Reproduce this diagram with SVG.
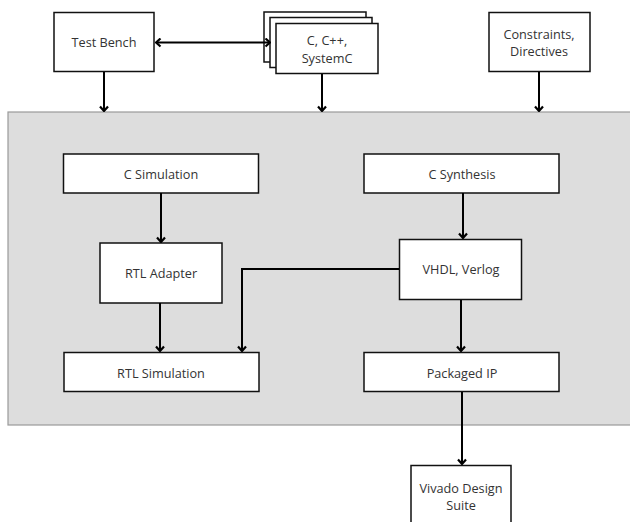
<svg xmlns="http://www.w3.org/2000/svg" width="630" height="522" viewBox="0 0 630 522">
<style>
.box{fill:#fff;stroke:#111;stroke-width:1.5}
.t{font-family:"Open Sans","Noto Sans",sans-serif;font-size:12.7px;fill:#333;text-anchor:middle}
.c{fill:none;stroke:#000;stroke-width:2}
</style>
<defs>
<marker id="ah" viewBox="0 0 10 10" refX="9" refY="5" markerWidth="10" markerHeight="10" orient="auto-start-reverse" markerUnits="userSpaceOnUse">
<polyline points="4.5,1 9,5 4.5,9" fill="none" stroke="#000" stroke-width="2.2"/>
</marker>
</defs>
<rect x="0" y="0" width="630" height="522" fill="#fff"/>
<g id="container"><rect x="8" y="112" width="630" height="313" fill="#dddddd" stroke="#9a9a9a" stroke-width="1.2"/></g>
<g id="testbench"><rect class="box" x="54" y="12.5" width="100" height="59"/><text class="t" x="104" y="47">Test Bench</text></g>
<g id="sources">
<rect class="box" x="264" y="12" width="102" height="50"/>
<rect class="box" x="270" y="17.5" width="102" height="50"/>
<rect class="box" x="276" y="23.5" width="102" height="50"/>
<text class="t" x="327" y="45">C, C++,</text><text class="t" x="327" y="63">SystemC</text>
</g>
<g id="constraints"><rect class="box" x="489" y="12.5" width="101" height="59"/><text class="t" x="539" y="39">Constraints,</text><text class="t" x="539" y="56">Directives</text></g>
<g id="csim"><rect class="box" x="63.5" y="154" width="195" height="39"/><text class="t" x="161" y="178.5">C Simulation</text></g>
<g id="rtladapter"><rect class="box" x="100" y="243" width="122" height="60"/><text class="t" x="161" y="278">RTL Adapter</text></g>
<g id="rtlsim"><rect class="box" x="64" y="352.5" width="195" height="39"/><text class="t" x="161" y="377.5">RTL Simulation</text></g>
<g id="csynth"><rect class="box" x="364" y="154" width="195" height="39"/><text class="t" x="462" y="178.5">C Synthesis</text></g>
<g id="hdl"><rect class="box" x="399.5" y="239.5" width="122" height="60"/><text class="t" x="461" y="274">VHDL, Verlog</text></g>
<g id="ip"><rect class="box" x="364" y="352.5" width="195" height="39"/><text class="t" x="462" y="377.5">Packaged IP</text></g>
<g id="vivado"><rect class="box" x="411" y="465.5" width="100" height="70"/><text class="t" x="461" y="493">Vivado Design</text><text class="t" x="461" y="510">Suite</text></g>
<g id="connectors">
<line class="c" x1="156" y1="42.5" x2="270" y2="42.5" marker-start="url(#ah)" marker-end="url(#ah)"/>
<line class="c" x1="104" y1="72" x2="104" y2="111" marker-end="url(#ah)"/>
<line class="c" x1="322" y1="74" x2="322" y2="111" marker-end="url(#ah)"/>
<line class="c" x1="539" y1="72" x2="539" y2="111" marker-end="url(#ah)"/>
<line class="c" x1="161" y1="193" x2="161" y2="242" marker-end="url(#ah)"/>
<line class="c" x1="160" y1="303" x2="160" y2="351" marker-end="url(#ah)"/>
<polyline class="c" points="399,269 242,269 242,351" marker-end="url(#ah)"/>
<line class="c" x1="463" y1="193" x2="463" y2="238" marker-end="url(#ah)"/>
<line class="c" x1="461" y1="300" x2="461" y2="351" marker-end="url(#ah)"/>
<line class="c" x1="462" y1="392" x2="462" y2="464" marker-end="url(#ah)"/>
</g>
</svg>
